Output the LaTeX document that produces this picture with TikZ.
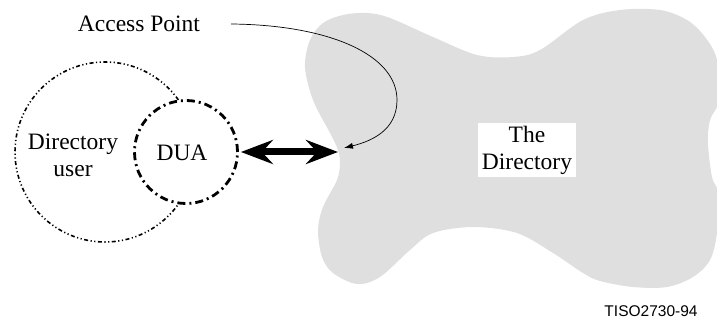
\documentclass[tikz,border=0pt]{standalone}
\usepackage{fontspec}
\setmainfont{Liberation Serif}
\newfontfamily\labelsans{Liberation Sans}
\usetikzlibrary{arrows.meta}
\definecolor{blobgray}{HTML}{DFDFDF}
\tikzset{
  txt/.style={font=\fontsize{23.5}{27}\selectfont, align=center, inner sep=0pt},
  usercircle/.style={circle, draw, line width=1.6pt, minimum size=180pt, inner sep=0pt,
    dash pattern=on 4pt off 2.5pt on 1.2pt off 2.5pt on 1.2pt off 2.5pt},
  duacircle/.style={circle, draw, fill=white, line width=2.8pt, minimum size=103pt, inner sep=0pt,
    dash pattern=on 8pt off 4pt on 2pt off 4pt},
  bigarrow/.style={line width=7pt, {Stealth[length=32pt,width=24pt,inset=11pt]}-{Stealth[length=32pt,width=24pt,inset=11pt]}},
  thinarrow/.style={line width=0.7pt, -{Latex[length=9pt,width=6pt]}},
}
\begin{document}
\begin{tikzpicture}[x=1pt,y=-1pt]
\useasboundingbox (0,0) rectangle (717,320);
\begin{scope}
\clip (0,0) rectangle (717,320);
\fill[blobgray] plot[smooth cycle, tension=0.55] coordinates {
 (338,150) (330,133) (313,100) (305,67) (310,40) (323,23) (343,15) (367,13) (390,18)
 (433,37) (477,55) (513,57) (540,50) (583,20) (620,10) (660,10) (687,20) (705,37)
 (717,60) (719,100) (710,120) (708,143) (712,177) (719,195) (717,233) (710,260)
 (693,277) (667,287) (633,287) (600,281) (583,273) (553,253) (517,233) (473,227)
 (433,233) (410,250) (380,277) (357,284) (333,273) (322,257) (318,230) (323,207)
 (337,180) (340,163)};
\end{scope}
\node[usercircle] (du) at (105,152) {};
\node[duacircle] (dua) at (186,152) {};
\node[txt] (dutext) at (73,155) {Directory\\user};
\node[txt] (duatext) at (182,153) {DUA};
\node[txt, fill=white, inner xsep=4pt, inner ysep=3pt] (dir) at (527,150) {The\\Directory};
\node[txt] (ap) at (139,24) {Access Point};
\coordinate (notch) at (338,152);
\coordinate (aptip) at (344,148);
\draw[bigarrow] ([xshift=2pt]dua.east) -- (notch);
\draw[thinarrow] ([xshift=31pt]ap.east) .. controls (330,25) and (397,55) .. (397,100)
  .. controls (397,130) and (372,141) .. (aptip);
\node[font=\labelsans\fontsize{15.5}{18}\selectfont, inner sep=0pt] (tiso) at (651,311) {TISO2730-94};
\end{tikzpicture}
\end{document}
